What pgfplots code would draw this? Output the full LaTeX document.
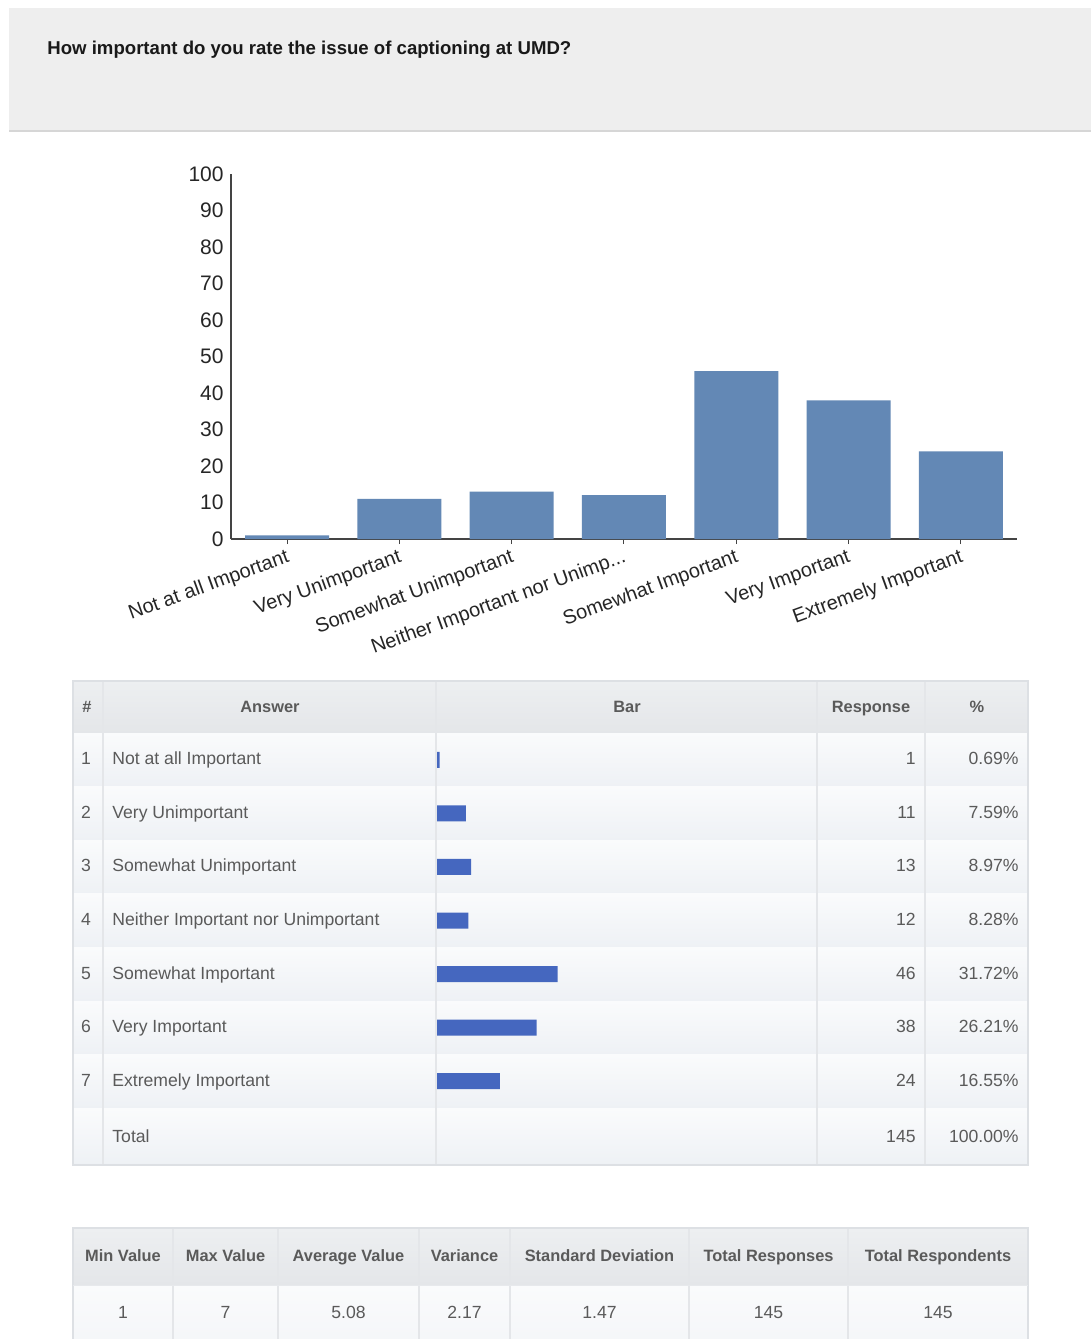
\documentclass[border=0pt]{standalone}
\usepackage{pgfplots}
\pgfplotsset{compat=1.18}
\usepackage{fontspec}
\setmainfont{Liberation Sans}
\definecolor{barblue}{HTML}{6388B5}
\definecolor{tblue}{HTML}{4567BF}
\definecolor{bandgray}{HTML}{EEEEEE}
\definecolor{bandline}{HTML}{D6D6D6}
\definecolor{axisgray}{HTML}{444444}
\definecolor{thead}{HTML}{E4E6E9}
\definecolor{theadtop}{HTML}{EDEFF1}
\definecolor{rowtop}{HTML}{FAFBFC}
\definecolor{rowbot}{HTML}{EEF1F5}
\definecolor{sepgray}{HTML}{DDE0E4}
\definecolor{txtgray}{HTML}{5A5A5A}
\newcommand\fs[1]{\fontsize{#1}{#1}\selectfont}
\begin{document}
\begin{tikzpicture}[x=0.5pt,y=0.5pt]
\useasboundingbox (0,0) rectangle (1091,-1339);
\fill[white] (0,0) rectangle (1091,-1339);
% header band
\fill[bandgray] (9,-8) rectangle (1091,-130);
\draw[bandline,line width=1pt] (9,-131) -- (1091,-131);
\node[anchor=west,inner sep=0pt,font=\fs{9.3}\bfseries,text=black!90] at (47,-50) {How important do you rate the issue of captioning at UMD?};

% ---------- column chart ----------
\begin{axis}[at={(115.5pt,-269.5pt)}, anchor=south west, scale only axis,
  width=393pt, height=182.5pt,
  ybar, bar width=42pt,
  xmin=0.5, xmax=7.5, ymin=0, ymax=100,
  ytick={0,10,...,100}, xtick={1,...,7},
  xticklabels={Not at all Important, Very Unimportant, Somewhat Unimportant, Neither Important nor Unimp.{}.{}., Somewhat Important, Very Important, Extremely Important},
  /pgf/number format/assume math mode=true,
  axis lines*=left,
  axis line style={draw=axisgray, line width=0.8pt},
  tick align=outside, major tick length=2.5pt,
  ytick style={draw=none},
  xtick style={draw=axisgray, line width=0.5pt},
  yticklabel style={font=\fs{10.5}, text=black!85, inner sep=1pt},
  xticklabel style={font=\fs{10}, text=black!85, rotate=20, anchor=north east, inner sep=1.5pt},
  clip=false]
\addplot[fill=barblue, draw=none] coordinates {(1,1) (2,11) (3,13) (4,12) (5,46) (6,38) (7,24)};
\end{axis}

% ---------- table 1 ----------
\shade[top color=theadtop, bottom color=thead] (73,-681) rectangle (1028,-733);
\foreach \i in {1,...,7} {
  \pgfmathsetmacro\ya{733+53.6*(\i-1)}
  \pgfmathsetmacro\yb{733+53.6*\i}
  \shade[top color=rowtop, bottom color=rowbot] (73,-\ya) rectangle (1028,-\yb);
  \draw[sepgray!70, line width=0.5pt] (73,-\yb) -- (1028,-\yb);
}
\shade[top color=rowtop, bottom color=rowbot] (73,-1108) rectangle (1028,-1165);
\foreach \xx in {103,436,817,925} {\draw[sepgray!80, line width=0.6pt] (\xx,-681) -- (\xx,-1165);}
\draw[sepgray, line width=0.6pt] (73,-681) rectangle (1028,-1165);

\begin{axis}[at={(218.5pt,-366.5pt)}, anchor=north west, scale only axis,
  width=190pt, height=187.5pt,
  xbar, bar width=8pt,
  xmin=0, xmax=145, ymin=0.5, ymax=7.5, y dir=reverse, hide axis]
\addplot[fill=tblue, draw=none] coordinates {(1,1) (11,2) (13,3) (12,4) (46,5) (38,6) (24,7)};
\end{axis}

\begin{scope}[every node/.style={inner sep=0pt, text height=0.72em, text depth=0.21em, text=txtgray, font=\fs{8.2}\bfseries}]
\node at (87,-707) {\#};
\node at (270,-707) {Answer};
\node at (627,-707) {Bar};
\node at (871,-707) {Response};
\node at (977,-707) {\%};
\end{scope}

\begin{scope}[every node/.style={inner sep=0pt, text height=0.72em, text depth=0.21em, text=txtgray, font=\fs{8.8}}]
\foreach \i/\ans/\resp/\pct in {1/Not at all Important/1/0.69\%, 2/Very Unimportant/11/7.59\%, 3/Somewhat Unimportant/13/8.97\%, 4/Neither Important nor Unimportant/12/8.28\%, 5/Somewhat Important/46/31.72\%, 6/Very Important/38/26.21\%, 7/Extremely Important/24/16.55\%} {
  \pgfmathsetmacro\yy{759.5+53.6*(\i-1)}
  \node at (86,-\yy) {\i};
  \node[anchor=west] at (112,-\yy) {\ans};
  \node[anchor=east] at (916,-\yy) {\resp};
  \node[anchor=east] at (1019,-\yy) {\pct};
}
\node[anchor=west] at (112,-1137) {Total};
\node[anchor=east] at (916,-1137) {145};
\node[anchor=east] at (1019,-1137) {100.00\%};
\end{scope}

% ---------- table 2 ----------
\shade[top color=theadtop, bottom color=thead] (73,-1228) rectangle (1028,-1285);
\shade[top color=rowtop, bottom color=rowbot!60] (73,-1285) rectangle (1028,-1339);
\foreach \xx in {173,278,419,510,689,848} {\draw[sepgray!80, line width=0.6pt] (\xx,-1228) -- (\xx,-1339);}
\draw[sepgray, line width=0.6pt] (73,-1339) -- (73,-1228) -- (1028,-1228) -- (1028,-1339);
\draw[sepgray!70, line width=0.5pt] (73,-1285) -- (1028,-1285);
\begin{scope}[every node/.style={inner sep=0pt, text height=0.72em, text depth=0.21em, text=txtgray, font=\fs{8.2}\bfseries}]
\foreach \cx/\lab in {123/Min Value, 225.5/Max Value, 348.5/Average Value, 464.5/Variance, 599.5/Standard Deviation, 768.5/Total Responses, 938/Total Respondents} {
  \node at (\cx,-1256) {\lab};
}
\end{scope}
\begin{scope}[every node/.style={inner sep=0pt, text height=0.72em, text depth=0.21em, text=txtgray, font=\fs{8.8}}]
\foreach \cx/\lab in {123/1, 225.5/7, 348.5/5.08, 464.5/2.17, 599.5/1.47, 768.5/145, 938/145} {
  \node at (\cx,-1313) {\lab};
}
\end{scope}
\end{tikzpicture}
\end{document}
